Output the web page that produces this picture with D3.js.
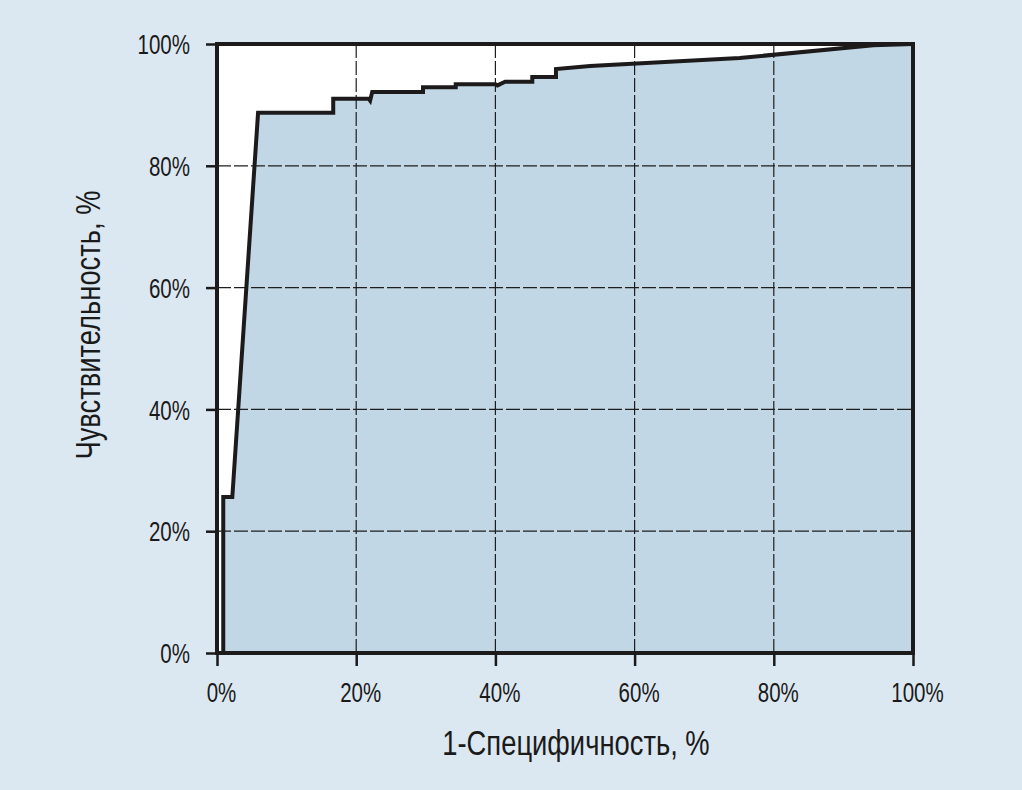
<!DOCTYPE html>
<html>
<head>
<meta charset="utf-8">
<script src="https://cdn.jsdelivr.net/npm/d3@7"></script>
<style>
  html, body { margin: 0; padding: 0; background: #dce8f1; }
  svg { display: block; }
  text { font-family: "Liberation Sans", Arial, sans-serif; fill: #1a1a1a; }
</style>
</head>
<body>
<svg id="chart" width="1022" height="790"></svg>
<script>
// ROC curve points (1-specificity %, sensitivity %)
const fpr = [0, 0.9, 0.9, 2.2, 5.9, 16.7, 16.7, 21.8, 22.0, 22.3, 29.6, 29.6, 34.3, 34.3, 40.0, 40.3, 41.4, 45.3, 45.3, 48.7, 48.7, 53.6, 75.1, 94.3, 100];
const tpr = [0, 0, 25.6, 25.6, 88.7, 88.7, 91.0, 91.0, 90.7, 92.1, 92.1, 92.9, 92.9, 93.4, 93.4, 93.2, 93.8, 93.8, 94.6, 94.6, 95.9, 96.4, 97.7, 99.8, 100];
const xTicks = [0, 20, 40, 60, 80, 100];
const yTicks = [0, 20, 40, 60, 80, 100];
const xTickLabels = ["0%", "20%", "40%", "60%", "80%", "100%"];
const yTickLabels = ["0%", "20%", "40%", "60%", "80%", "100%"];
const xTitle = "1-Специфичность, %";
const yTitle = "Чувствительность, %";

(function () {
const svg = d3.select("#chart");
const W = 1022, H = 790;
svg.append("rect").attr("width", W).attr("height", H).attr("fill", "#dce8f1");

const pL = 217, pR = 913, pT = 44, pB = 653;
const x = d3.scaleLinear().domain([0, 100]).range([pL, pR]);
const y = d3.scaleLinear().domain([0, 100]).range([pB, pT]);
const sx = 0.76; // horizontal condensing of text

const pts = fpr.map((f, i) => [f, tpr[i]]);

// plot background
svg.append("rect").attr("x", pL).attr("y", pT).attr("width", pR - pL).attr("height", pB - pT).attr("fill", "#ffffff");

// area under curve
const area = d3.area().x(d => x(d[0])).y0(y(0)).y1(d => y(d[1]));
svg.append("path").datum(pts).attr("d", area).attr("fill", "#c1d7e5");

// grid lines
const g = svg.append("g");
g.selectAll(".vg").data(xTicks.slice(1, -1)).join("line")
  .attr("x1", d => x(d)).attr("x2", d => x(d)).attr("y1", pT).attr("y2", pB)
  .attr("stroke", "#1e1e1e").attr("stroke-width", 1.2).attr("stroke-dasharray", "14,3");
g.selectAll(".hg").data(yTicks.slice(1, -1)).join("line")
  .attr("y1", d => y(d)).attr("y2", d => y(d)).attr("x1", pL).attr("x2", pR)
  .attr("stroke", "#1e1e1e").attr("stroke-width", 1.2).attr("stroke-dasharray", "14,3");

// axes
const xAxis = d3.axisBottom(x).tickValues(xTicks).tickFormat((d, i) => xTickLabels[i]).tickSize(13);
const yAxis = d3.axisLeft(y).tickValues(yTicks).tickFormat((d, i) => yTickLabels[i]).tickSize(11);

const gx = svg.append("g").attr("transform", `translate(0,${pB})`).call(xAxis);
const gy = svg.append("g").attr("transform", `translate(${pL},0)`).call(yAxis);
[gx, gy].forEach(a => {
  a.select(".domain").remove();
  a.selectAll(".tick line").attr("stroke", "#1a1a1a").attr("stroke-width", 2.5);
  a.selectAll(".tick text").attr("font-size", 27).attr("fill", "#1a1a1a")
    .style("font-family", '"Liberation Sans", Arial, sans-serif')
    .attr("transform", `scale(${sx},1)`);
});
gx.selectAll(".tick text").attr("x", 4 / sx).attr("y", 49).attr("dy", 0);
gy.selectAll(".tick text").attr("x", -27 / sx).attr("dy", "0.36em");

// curve
const line = d3.line().x(d => x(d[0])).y(d => y(d[1]));
svg.append("path").datum(pts).attr("d", line).attr("fill", "none")
  .attr("stroke", "#1c1a1a").attr("stroke-width", 4).attr("stroke-linejoin", "miter");

// frame
svg.append("rect").attr("x", pL).attr("y", pT).attr("width", pR - pL).attr("height", pB - pT)
  .attr("fill", "none").attr("stroke", "#1c1a1a").attr("stroke-width", 4);

// titles
svg.append("text").attr("transform", `translate(576,755) scale(${sx},1)`)
  .attr("text-anchor", "middle").attr("font-size", 36).text(xTitle);
svg.append("text").attr("transform", `translate(100,325) rotate(-90) scale(${sx},1)`)
  .attr("text-anchor", "middle").attr("font-size", 36).text(yTitle);
})();
</script>
</body>
</html>
